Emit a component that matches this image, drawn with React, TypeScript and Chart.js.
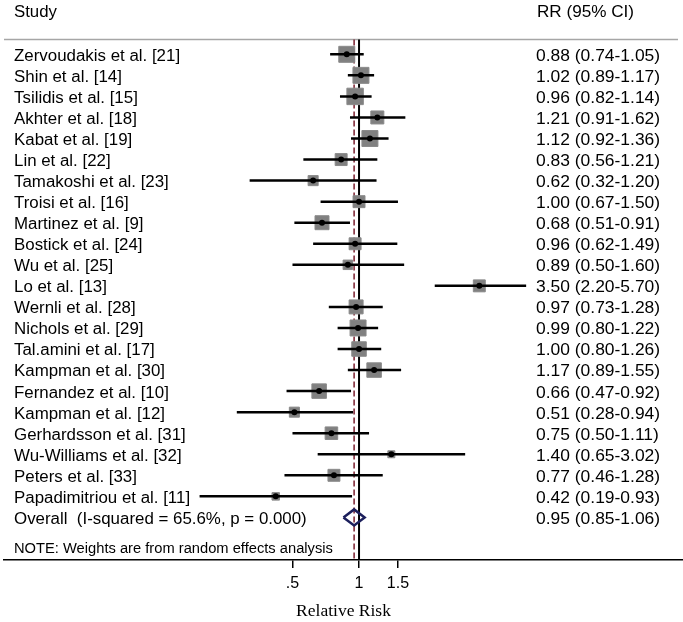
import React, { useEffect, useRef } from "react";
import { Chart, registerables } from "chart.js";

Chart.register(...registerables);

const studies = [
  "Zervoudakis et al. [21]",
  "Shin et al. [14]",
  "Tsilidis et al. [15]",
  "Akhter et al. [18]",
  "Kabat et al. [19]",
  "Lin et al. [22]",
  "Tamakoshi et al. [23]",
  "Troisi et al. [16]",
  "Martinez et al. [9]",
  "Bostick et al. [24]",
  "Wu et al. [25]",
  "Lo et al. [13]",
  "Wernli et al. [28]",
  "Nichols et al. [29]",
  "Tal.amini et al. [17]",
  "Kampman et al. [30]",
  "Fernandez et al. [10]",
  "Kampman et al. [12]",
  "Gerhardsson et al. [31]",
  "Wu-Williams et al. [32]",
  "Peters et al. [33]",
  "Papadimitriou et al. [11]",
];
const rr = [0.88, 1.02, 0.96, 1.21, 1.12, 0.83, 0.62, 1.0, 0.68, 0.96, 0.89, 3.5, 0.97, 0.99, 1.0, 1.17, 0.66, 0.51, 0.75, 1.4, 0.77, 0.42];
const ciLow = [0.74, 0.89, 0.82, 0.91, 0.92, 0.56, 0.32, 0.67, 0.51, 0.62, 0.5, 2.2, 0.73, 0.8, 0.8, 0.89, 0.47, 0.28, 0.5, 0.65, 0.46, 0.19];
const ciHigh = [1.05, 1.17, 1.14, 1.62, 1.36, 1.21, 1.2, 1.5, 0.91, 1.49, 1.6, 5.7, 1.28, 1.22, 1.26, 1.55, 0.92, 0.94, 1.11, 3.02, 1.28, 0.93];
const weights = [6.8, 6.8, 7.2, 4.5, 6.8, 3.8, 2.7, 3.8, 5.2, 3.8, 2.4, 3.8, 5.2, 6.8, 5.6, 5.6, 5.6, 2.7, 4.2, 1.3, 3.8, 1.5];
const overallLabel = "Overall  (I-squared = 65.6%, p = 0.000)";
const overallCI = [0.85, 0.95, 1.06];
const tickValues = [0.5, 1, 1.5];
const tickLabels = [".5", "1", "1.5"];
const headerLeft = "Study";
const headerRight = "RR (95% CI)";
const noteText = "NOTE: Weights are from random effects analysis";
const axisTitle = "Relative Risk";

const Y_MIN = -2.58;
const Y_MAX = 24.023;
const HEADER_ROW = -2.067;
const TOPLINE_ROW = -0.704;
const NOTE_ROW = 23.415;
const OVERALL_ROW = studies.length;
const TEXT_DY = 2;

const fmt = (v: number) => v.toFixed(2);

function drawText(ctx: CanvasRenderingContext2D, s: string, x: number, y: number, font: string, sx: number) {
  ctx.save();
  ctx.font = font;
  ctx.fillStyle = "#000";
  ctx.textBaseline = "middle";
  ctx.textAlign = "left";
  ctx.translate(x, y + TEXT_DY);
  ctx.scale(sx, 1);
  ctx.fillText(s, 0, 0);
  ctx.restore();
}

const forestPlugin = {
  id: "forest",
  beforeDatasetsDraw(chart: any) {
    const ctx = chart.ctx as CanvasRenderingContext2D;
    const xs = chart.scales.x;
    const ys = chart.scales.y;
    const area = chart.chartArea;
    const yTop = ys.getPixelForValue(TOPLINE_ROW);
    ctx.save();
    // top separator
    ctx.strokeStyle = "#a6a6a6";
    ctx.lineWidth = 1.5;
    ctx.beginPath();
    ctx.moveTo(4, yTop);
    ctx.lineTo(678, yTop);
    ctx.stroke();
    // null line
    const x1 = xs.getPixelForValue(1);
    ctx.strokeStyle = "#000";
    ctx.lineWidth = 2;
    ctx.beginPath();
    ctx.moveTo(x1, yTop);
    ctx.lineTo(x1, area.bottom);
    ctx.stroke();
    // overall dashed line
    const xo = xs.getPixelForValue(overallCI[1]);
    ctx.strokeStyle = "#7b1e2e";
    ctx.lineWidth = 1.5;
    ctx.setLineDash([6, 3]);
    ctx.beginPath();
    ctx.moveTo(xo, yTop);
    ctx.lineTo(xo, area.bottom);
    ctx.stroke();
    ctx.restore();
  },
  afterDraw(chart: any) {
    const ctx = chart.ctx as CanvasRenderingContext2D;
    const ys = chart.scales.y;
    const f16 = "16px 'Liberation Sans', Arial, sans-serif";
    const f14 = "14px 'Liberation Sans', Arial, sans-serif";
    const yh = ys.getPixelForValue(HEADER_ROW);
    drawText(ctx, headerLeft, 14, yh, f16, 1.05);
    drawText(ctx, headerRight, 537, yh, f16, 1.07);
    studies.forEach((s, i) => {
      const y = ys.getPixelForValue(i);
      drawText(ctx, s, 14, y, f16, 1.055);
      drawText(ctx, `${fmt(rr[i])} (${fmt(ciLow[i])}-${fmt(ciHigh[i])})`, 536, y, f16, 1.09);
    });
    const yo = ys.getPixelForValue(OVERALL_ROW);
    drawText(ctx, overallLabel, 14, yo, f16, 1.055);
    drawText(ctx, `${fmt(overallCI[1])} (${fmt(overallCI[0])}-${fmt(overallCI[2])})`, 536, yo, f16, 1.09);
    drawText(ctx, noteText, 14, ys.getPixelForValue(NOTE_ROW), f14, 1.05);
  },
};

export default function App() {
  const ref = useRef<HTMLCanvasElement | null>(null);
  useEffect(() => {
    if (!ref.current) return;
    const ciData: any[] = [];
    studies.forEach((_, i) => {
      ciData.push({ x: ciLow[i], y: i });
      ciData.push({ x: ciHigh[i], y: i });
      ciData.push({ x: ciHigh[i], y: null });
    });
    const dh = 0.38;
    const diamond = [
      { x: overallCI[0], y: OVERALL_ROW },
      { x: overallCI[1], y: OVERALL_ROW - dh },
      { x: overallCI[2], y: OVERALL_ROW },
      { x: overallCI[1], y: OVERALL_ROW + dh },
      { x: overallCI[0], y: OVERALL_ROW },
    ];
    const chart = new Chart(ref.current, {
      type: "scatter",
      data: {
        datasets: [
          {
            label: "point",
            data: rr.map((v, i) => ({ x: v, y: i })),
            pointStyle: "circle",
            pointRadius: 3,
            pointBackgroundColor: "#000",
            pointBorderWidth: 0,
            showLine: false,
          },
          {
            label: "ci",
            data: ciData,
            showLine: true,
            borderColor: "#000",
            borderWidth: 2.5,
            pointRadius: 0,
            spanGaps: false,
          },
          {
            label: "overall",
            data: diamond,
            showLine: true,
            borderColor: "#1c1f5c",
            borderWidth: 2.5,
            borderJoinStyle: "miter",
            pointRadius: 0,
            fill: false,
          },
          {
            label: "weight",
            data: rr.map((v, i) => ({ x: v, y: i })),
            pointStyle: "rect",
            pointRadius: weights.map((w) => Math.sqrt(w * 37.58) * Math.SQRT1_2),
            pointBackgroundColor: "#808080",
            pointBorderColor: "#8a8a8a",
            pointBorderWidth: 1,
            showLine: false,
          },
        ] as any,
      },
      options: {
        animation: false,
        responsive: false,
        maintainAspectRatio: false,
        events: [],
        layout: { autoPadding: false, padding: { left: 4, right: 0, top: 0, bottom: 0 } },
        plugins: { legend: { display: false }, tooltip: { enabled: false }, title: { display: false } },
        scales: {
          x: {
            type: "logarithmic",
            min: 0.02478,
            max: 29.2,
            bounds: "data",
            position: "bottom",
            afterBuildTicks: (scale: any) => {
              scale.ticks = tickValues.map((v) => ({ value: v }));
            },
            afterFit: (scale: any) => {
              scale.height = 62;
            },
            ticks: {
              autoSkip: false,
              maxRotation: 0,
              padding: 6,
              color: "#000",
              font: { family: "'Liberation Sans', Arial, sans-serif", size: 16 },
              callback: (_v: any, i: number) => tickLabels[i],
            },
            grid: {
              display: true,
              drawOnChartArea: false,
              drawTicks: true,
              tickLength: 8,
              color: "#000",
              lineWidth: 1.5,
            },
            border: { display: true, color: "#000", width: 1.5 },
            title: {
              display: true,
              text: axisTitle,
              color: "#000",
              font: { family: "'Liberation Serif', 'Times New Roman', serif", size: 17.5, weight: "normal" },
              padding: { top: 4, bottom: 0 },
            },
          },
          y: {
            type: "linear",
            display: false,
            reverse: true,
            min: Y_MIN,
            max: Y_MAX,
          },
        },
      } as any,
      plugins: [forestPlugin],
    });
    return () => chart.destroy();
  }, []);
  return (
    <div style={{ position: "absolute", left: 0, top: 0, width: 683, height: 622, background: "#fff" }}>
      <canvas ref={ref} width={683} height={622} style={{ width: 683, height: 622, display: "block" }} />
    </div>
  );
}
